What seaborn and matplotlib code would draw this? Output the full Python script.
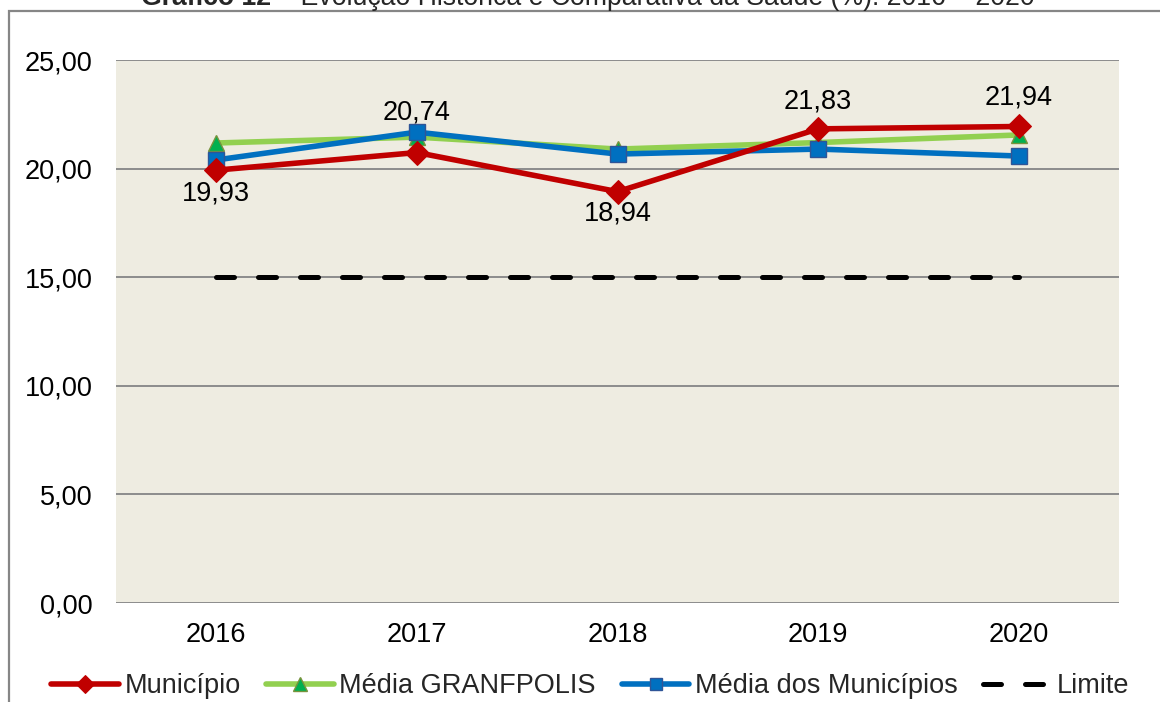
import pandas as pd
import matplotlib.pyplot as plt
import seaborn as sns
from matplotlib.ticker import FuncFormatter, MultipleLocator
from matplotlib.patches import Rectangle

# Data
anos = ['2016', '2017', '2018', '2019', '2020']
municipio = [19.93, 20.74, 18.94, 21.83, 21.94]
media_granfpolis = [21.18, 21.45, 20.90, 21.20, 21.55]
media_municipios = [20.40, 21.68, 20.67, 20.90, 20.58]
limite = [15, 15, 15, 15, 15]

FS = 19.5
LW = 4.0

sns.set_theme(style='white')
plt.rcParams['font.family'] = ['Liberation Sans', 'DejaVu Sans']

fig = plt.figure(figsize=(11.6, 7.02), dpi=100)
ax = fig.add_axes([0.1, 0.141, 0.8647, 0.7735])
ax.set_facecolor('#EEECE1')

# outer chart frame
fig.patches.append(Rectangle((9 / 1160, -0.05), 1.1, 1 - 11 / 702 + 0.05,
                             transform=fig.transFigure, fill=False,
                             edgecolor='#868686', linewidth=1.6, zorder=0))

df = pd.DataFrame({'Ano': anos, 'Município': municipio,
                   'Média GRANFPOLIS': media_granfpolis,
                   'Média dos Municípios': media_municipios,
                   'Limite': limite})

sns.lineplot(data=df, x='Ano', y='Limite', ax=ax, color='black', linewidth=3.6,
             label='Limite', zorder=3)
lim_line = ax.lines[-1]
lim_line.set_dashes([3.6, 4.8])
lim_line.set_dash_capstyle('round')

sns.lineplot(data=df, x='Ano', y='Média GRANFPOLIS', ax=ax, color='#92D050',
             linewidth=LW, marker='^', markersize=12, markerfacecolor='#00B050',
             markeredgecolor='#77933C', markeredgewidth=1, label='Média GRANFPOLIS', zorder=4)
sns.lineplot(data=df, x='Ano', y='Média dos Municípios', ax=ax, color='#0070C0',
             linewidth=LW, marker='s', markersize=11.5, markerfacecolor='#0070C0',
             markeredgecolor='#2F5597', markeredgewidth=1, label='Média dos Municípios', zorder=5)
sns.lineplot(data=df, x='Ano', y='Município', ax=ax, color='#C00000',
             linewidth=LW, marker='D', markersize=12, markerfacecolor='#C00000',
             markeredgecolor='#C00000', label='Município', zorder=6)

# data labels for Município (offsets in points)
offsets = [-16.5, 29, -15.5, 19.5, 21]
for i, (v, off) in enumerate(zip(municipio, offsets)):
    ax.annotate(f'{v:.2f}'.replace('.', ','), (i, v), xytext=(0, off),
                textcoords='offset points', ha='center', va='center',
                fontsize=FS, color='black', zorder=7)

ax.set_xlim(-0.5, 4.5)
ax.set_ylim(0, 25)
ax.yaxis.set_major_locator(MultipleLocator(5))
ax.yaxis.set_major_formatter(FuncFormatter(lambda v, p: f'{v:.2f}'.replace('.', ',')))
ax.grid(axis='y', color='#8C8C8C', linewidth=1.4)
ax.set_axisbelow(True)
for s in ax.spines.values():
    s.set_visible(False)
ax.tick_params(axis='both', length=0, labelsize=FS, colors='black')
ax.tick_params(axis='y', pad=17)
ax.tick_params(axis='x', pad=14)
ax.set_xlabel('')
ax.set_ylabel('')

handles, labels = ax.get_legend_handles_labels()
order = ['Município', 'Média GRANFPOLIS', 'Média dos Municípios', 'Limite']
hmap = dict(zip(labels, handles))
ax.legend([hmap[k] for k in order], order, loc='center', bbox_to_anchor=(0.4726, -0.153),
          ncol=4, frameon=False, fontsize=FS, handlelength=2.5, handletextpad=0.2,
          columnspacing=0.95, markerscale=0.8, borderpad=0.1)

# title (clipped at the top edge, as in the source), bold prefix + regular rest
y_title = 1 - 5 / 702
x0 = 141 / 1160
t1 = fig.text(x0, y_title, 'Gráfico 12', fontsize=18, fontweight='bold',
              ha='left', va='baseline')
t2 = fig.text(x0, y_title, ' – Evolução Histórica e Comparativa da Saúde (%): 2016 – 2020',
              fontsize=18, ha='left', va='baseline')
r = fig.canvas.get_renderer()
w1 = t1.get_window_extent(r).width
w2 = t2.get_window_extent(r).width
scale = 896 / (w1 + w2)
t1.set_fontsize(18 * scale)
t2.set_fontsize(18 * scale)
w1 = t1.get_window_extent(r).width
t2.set_x(x0 + w1 / 1160)

fig.savefig('out.png', dpi=100)
